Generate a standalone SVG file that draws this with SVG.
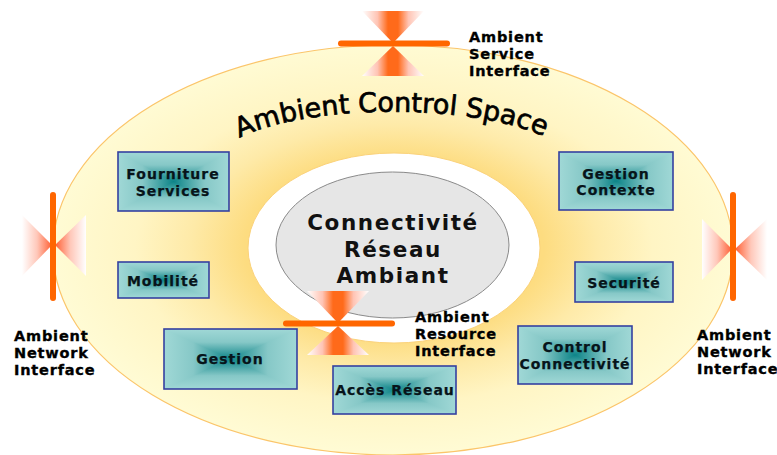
<svg xmlns="http://www.w3.org/2000/svg" xmlns:xlink="http://www.w3.org/1999/xlink" width="777" height="455" viewBox="0 0 777 455">
<style>
.t{font-family:"DejaVu Sans",Verdana,sans-serif;font-weight:700;fill:#000}
.lb{font-size:14.5px;letter-spacing:.8px;stroke:#000;stroke-width:.35}
.bx{font-size:14px;letter-spacing:1px;text-anchor:middle;fill:#07141a;stroke:#07141a;stroke-width:.25}
.frame{fill:none;stroke:#3540a0;stroke-width:1.6}
.bar{stroke:#ff6600;stroke-width:6;stroke-linecap:round}
.big{font-size:21.5px;letter-spacing:1.6px;text-anchor:middle;fill:#111}
.arc{font-family:"DejaVu Sans",Verdana,sans-serif;font-size:27px;fill:#000;stroke:#000;stroke-width:.7}
</style>
<defs>
<radialGradient id="sun" cx="394" cy="248" r="1" gradientUnits="userSpaceOnUse" gradientTransform="translate(394 248) scale(340 205) translate(-394 -248)">
<stop offset="0.44" stop-color="#fddc80"/><stop offset="0.6" stop-color="#feeaa8"/><stop offset="0.76" stop-color="#fff5c4"/><stop offset="1" stop-color="#fffbd4"/>
</radialGradient>
<linearGradient id="gV" x1="0" y1="0" x2="0" y2="1"><stop offset="0" stop-color="#a0d8d6"/><stop offset=".22" stop-color="#86c8c7"/><stop offset=".5" stop-color="#0d8488"/><stop offset=".78" stop-color="#86c8c7"/><stop offset="1" stop-color="#a0d8d6"/></linearGradient>
<linearGradient id="gL" x1="0" y1="0" x2="1" y2="0"><stop offset="0" stop-color="#a0d8d6"/><stop offset=".44" stop-color="#86c8c7"/><stop offset="1" stop-color="#0d8488"/></linearGradient>
<linearGradient id="gR" x1="1" y1="0" x2="0" y2="0"><stop offset="0" stop-color="#a0d8d6"/><stop offset=".44" stop-color="#86c8c7"/><stop offset="1" stop-color="#0d8488"/></linearGradient>
<linearGradient id="hg" x1="0" y1="0" x2="1" y2="0"><stop offset="0" stop-color="#fff"/><stop offset=".25" stop-color="#ffc4b4"/><stop offset=".42" stop-color="#ff6a1a"/><stop offset=".58" stop-color="#ff6a1a"/><stop offset=".75" stop-color="#ffc4b4"/><stop offset="1" stop-color="#fff"/></linearGradient>
<linearGradient id="vL" x1="0" y1="0" x2="1" y2="0"><stop offset="0" stop-color="#fff"/><stop offset=".5" stop-color="#ffc8ba"/><stop offset="1" stop-color="#ff5f33"/></linearGradient>
<linearGradient id="vR" x1="1" y1="0" x2="0" y2="0"><stop offset="0" stop-color="#fff"/><stop offset=".5" stop-color="#ffc8ba"/><stop offset="1" stop-color="#ff5f33"/></linearGradient>
<symbol id="panel" viewBox="0 0 100 100" preserveAspectRatio="none">
<rect width="100" height="100" fill="url(#gV)"/>
<polygon points="0,0 0,100 50,50" fill="url(#gL)"/>
<polygon points="100,0 100,100 50,50" fill="url(#gR)"/>
</symbol>
<path id="arcPath" d="M232 142 C300 102 478 102 552 140"/>
</defs>
<rect width="777" height="455" fill="#fff"/>
<g id="ambient-control-space">
<ellipse cx="393" cy="250" rx="340" ry="205" fill="url(#sun)" stroke="#fbc56a" stroke-width="1.2"/>
<text class="arc" text-anchor="middle"><textPath xlink:href="#arcPath" href="#arcPath" startOffset="50%">Ambient Control Space</textPath></text>
</g>
<g id="connectivite-reseau-ambiant">
<ellipse cx="394" cy="248" rx="146" ry="95" fill="#fff" stroke="#fbd27a" stroke-width="1"/>
<ellipse cx="392.5" cy="245" rx="116.500" ry="73" fill="#e6e6e6" stroke="#8a8a8a" stroke-width="1"/>
<text class="t big" x="393" y="230">Connectivité</text>
<text class="t big" x="393" y="257">Réseau</text>
<text class="t big" x="393" y="283">Ambiant</text>
</g>
<g id="fourniture-services"><use href="#panel" x="118" y="152" width="111" height="59"/><rect class="frame" x="118" y="152" width="111" height="59"/>
<text class="t bx" x="173" y="179">Fourniture</text><text class="t bx" x="173" y="196">Services</text></g>
<g id="mobilite"><use href="#panel" x="118" y="262" width="91" height="36"/><rect class="frame" x="118" y="262" width="91" height="36"/>
<text class="t bx" x="163" y="286">Mobilité</text></g>
<g id="gestion"><use href="#panel" x="164" y="329" width="133" height="60"/><rect class="frame" x="164" y="329" width="133" height="60"/>
<text class="t bx" x="230" y="364">Gestion</text></g>
<g id="acces-reseau"><use href="#panel" x="333" y="366" width="123" height="48"/><rect class="frame" x="333" y="366" width="123" height="48"/>
<text class="t bx" x="395" y="395">Accès Réseau</text></g>
<g id="control-connectivite"><use href="#panel" x="518" y="326" width="114" height="58"/><rect class="frame" x="518" y="326" width="114" height="58"/>
<text class="t bx" x="575" y="352">Control</text><text class="t bx" x="575" y="369">Connectivité</text></g>
<g id="securite"><use href="#panel" x="575" y="262" width="98" height="40"/><rect class="frame" x="575" y="262" width="98" height="40"/>
<text class="t bx" x="624" y="288">Securité</text></g>
<g id="gestion-contexte"><use href="#panel" x="559" y="152" width="114" height="58"/><rect class="frame" x="559" y="152" width="114" height="58"/>
<text class="t bx" x="616" y="179">Gestion</text><text class="t bx" x="616" y="195">Contexte</text></g>
<g id="ambient-service-interface">
<polygon points="362,11 424,11 393,43" fill="url(#hg)"/><polygon points="362,76 424,76 393,46" fill="url(#hg)"/>
<line class="bar" x1="341" y1="43.500" x2="447" y2="43.500"/>
<text class="t lb" x="469" y="42">Ambient</text><text class="t lb" x="469" y="59">Service</text><text class="t lb" x="469" y="76">Interface</text>
</g>
<g id="ambient-resource-interface">
<polygon points="307,291 369,291 338,323" fill="url(#hg)"/><polygon points="307,355 369,355 338,326" fill="url(#hg)"/>
<line class="bar" x1="286" y1="323.500" x2="392" y2="323.500"/>
<text class="t lb" x="415" y="322">Ambient</text><text class="t lb" x="415" y="339">Resource</text><text class="t lb" x="415" y="356">Interface</text>
</g>
<g id="ambient-network-interface-left">
<polygon points="22,215 22,276 52,245" fill="url(#vL)"/><polygon points="86,215 86,276 55,245" fill="url(#vR)"/>
<line class="bar" x1="53" y1="195" x2="53" y2="298"/>
<text class="t lb" x="14" y="341">Ambient</text><text class="t lb" x="14" y="358">Network</text><text class="t lb" x="14" y="375">Interface</text>
</g>
<g id="ambient-network-interface-right">
<polygon points="702,219 702,280 732,249" fill="url(#vL)"/><polygon points="767,219 767,280 735,249" fill="url(#vR)"/>
<line class="bar" x1="733" y1="195" x2="733" y2="298"/>
<text class="t lb" x="697" y="340">Ambient</text><text class="t lb" x="697" y="357">Network</text><text class="t lb" x="697" y="374">Interface</text>
</g>
</svg>
